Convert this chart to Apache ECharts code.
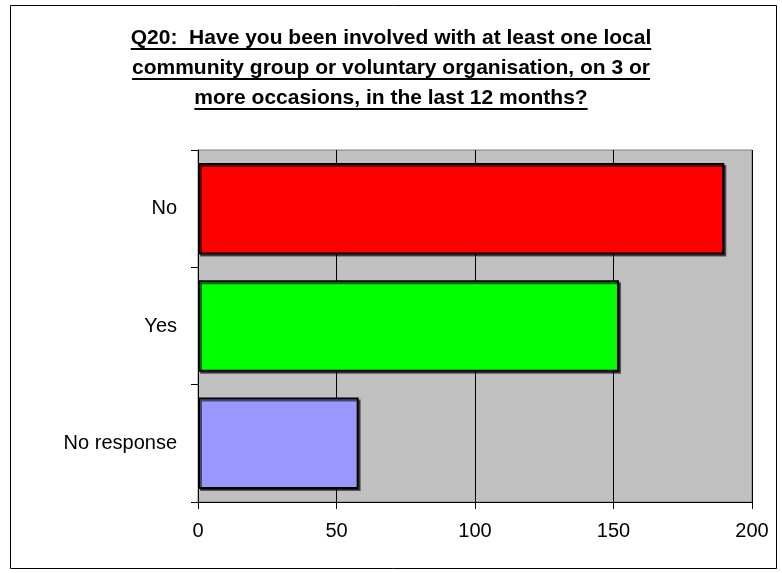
<!DOCTYPE html>
<html>

<head>
  <meta charset="utf-8">
  <title>Q20 community involvement</title>
  <script src="https://cdn.jsdelivr.net/npm/echarts@6/dist/echarts.min.js"></script>
  <style>
    html, body { margin: 0; padding: 0; background: #fff; }
  </style>
</head>

<body>
  <div id="main" style="width: 782px;height:573px;"></div>
  <script type="text/javascript">
    // data
    var titleLines = [
      'Q20:  Have you been involved with at least one local',
      'community group or voluntary organisation, on 3 or',
      'more occasions, in the last 12 months?'
    ];
    var categories = ['No', 'Yes', 'No response'];
    var counts = [190, 152, 58];
    var axisMin = 0;
    var axisMax = 200;
    var axisStep = 50;

    // colours per bar
    var barColors = ['#FF0000', '#00FF00', '#9999FF'];

    var FONT = '"Liberation Sans", Arial, sans-serif';
    var myChart = echarts.init(document.getElementById('main'));

    // measure title lines so the underline fits the text
    var ctx = document.createElement('canvas').getContext('2d');
    ctx.font = 'bold 21px ' + FONT;

    var graphics = [
      {
        type: 'rect',
        shape: { x: 10.5, y: 5.5, width: 766, height: 563 },
        style: { fill: null, stroke: '#000', lineWidth: 1 },
        silent: true
      }
    ];
    titleLines.forEach(function (line, i) {
      var cy = 38 + i * 30;
      var w = ctx.measureText(line).width;
      graphics.push({
        type: 'text',
        x: 391,
        y: cy,
        style: {
          text: line,
          font: 'bold 21px ' + FONT,
          fill: '#000',
          align: 'center',
          verticalAlign: 'middle'
        }
      });
      graphics.push({
        type: 'line',
        shape: { x1: 391 - w / 2, y1: cy + 11, x2: 391 + w / 2, y2: cy + 11 },
        style: { stroke: '#000', lineWidth: 2 }
      });
    });

    var option = {
      animation: false,
      backgroundColor: '#fff',
      graphic: graphics,
      grid: {
        left: 198,
        right: 30,
        top: 150,
        bottom: 71,
        show: true,
        backgroundColor: '#C0C0C0',
        borderColor: '#808080',
        borderWidth: 1
      },
      xAxis: {
        type: 'value',
        min: axisMin,
        max: axisMax,
        interval: axisStep,
        axisLine: { show: true, lineStyle: { color: '#000', width: 1 } },
        axisTick: { show: true, length: 7, lineStyle: { color: '#000' } },
        axisLabel: { color: '#000', fontSize: 20, fontFamily: FONT, margin: 19 },
        splitLine: { show: true, lineStyle: { color: '#000', width: 1 } }
      },
      yAxis: {
        type: 'category',
        data: categories,
        inverse: true,
        axisLine: { show: true, lineStyle: { color: '#000', width: 1 } },
        axisTick: { show: true, length: 7, lineStyle: { color: '#000' } },
        axisLabel: { color: '#000', fontSize: 20, fontFamily: FONT, margin: 21 },
        splitLine: { show: false }
      },
      series: [
        {
          type: 'bar',
          barCategoryGap: '22%',
          data: counts.map(function (v, i) {
            return { value: v, itemStyle: { color: barColors[i] } };
          }),
          itemStyle: {
            borderColor: '#000',
            borderWidth: 2,
            shadowColor: 'rgba(0,0,0,0.55)',
            shadowOffsetX: 2,
            shadowOffsetY: 2,
            shadowBlur: 0
          }
        }
      ]
    };

    myChart.setOption(option);
  </script>
</body>

</html>
